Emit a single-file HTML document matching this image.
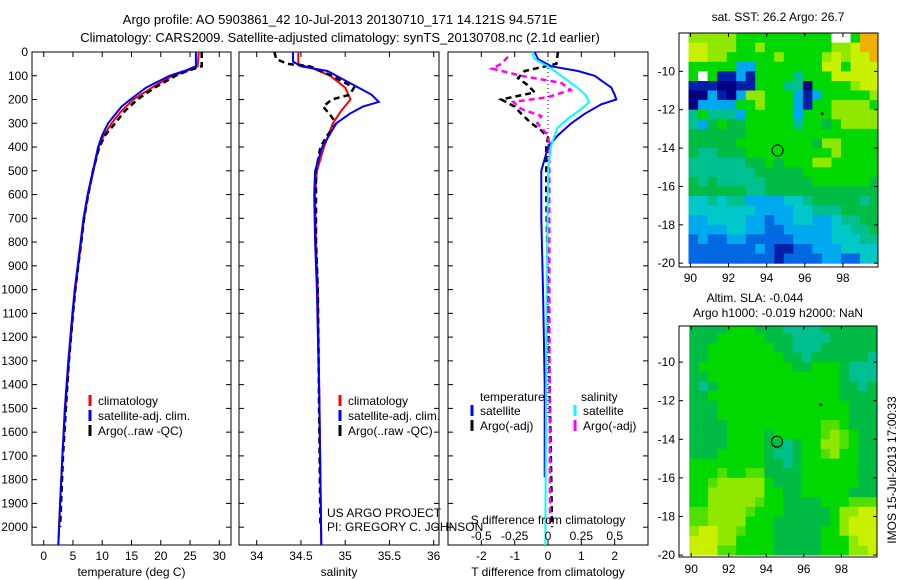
<!DOCTYPE html>
<html><head><meta charset="utf-8">
<style>
body{margin:0;background:#fff;}
svg{display:block;font-family:"Liberation Sans",sans-serif;}
text{font-size:12px;fill:#000;}
</style></head>
<body>
<svg id="fig" width="900" height="580" viewBox="0 0 900 580">
<text x="340" y="24" text-anchor="middle" style="font-size:13px">Argo profile: AO 5903861_42 10-Jul-2013 20130710_171 14.121S 94.571E</text>
<text x="340" y="42" text-anchor="middle" style="font-size:13px">Climatology: CARS2009. Satellite-adjusted climatology: synTS_20130708.nc (2.1d earlier)</text>
</svg>
<script>
// ---------- profile data (depth m, value) ----------
const depthTicks=[0,100,200,300,400,500,600,700,800,900,1000,1100,1200,1300,1400,1500,1600,1700,1800,1900,2000];
const tempTicks=[0,5,10,15,20,25,30];
const salTicks=[34,34.5,35,35.5,36];
const tdiffTicks=[-2,-1,0,1,2];
const sdiffTicks=[-0.5,-0.25,0,0.25,0.5];
const tempClim=[[0,26.5],[60,26.3],[80,24.5],[100,22],[150,18.5],[200,15.3],[250,13.2],[300,11.6],[350,10.3],[400,9.4],[500,8.5],[600,7.6],[700,6.9],[800,6.4],[900,5.9],[1000,5.4],[1100,5.0],[1300,4.3],[1500,3.7],[1700,3.2],[1900,2.8],[2075,2.5]];
const tempSat=[[0,26.0],[60,26.0],[80,24],[100,21.5],[150,17.5],[200,14.8],[230,13.3],[300,11.0],[350,10.0],[400,9.3],[500,8.4],[600,7.5],[700,6.8],[800,6.3],[900,5.8],[1000,5.3],[1100,4.9],[1300,4.2],[1500,3.6],[1700,3.2],[1900,2.8],[2075,2.5]];
const tempArgo=[[0,27],[60,27],[80,24.5],[100,22.5],[150,19],[200,16],[250,13.8],[300,12.2],[350,10.5],[400,9.5],[500,8.4],[600,7.6],[700,6.9],[800,6.4],[900,5.9],[1000,5.4],[1100,5.0],[1300,4.3],[1500,3.8],[1700,3.3],[2000,2.8]];
const salClim=[[0,34.47],[50,34.47],[70,34.64],[100,34.83],[150,35.0],[200,35.06],[250,34.95],[300,34.86],[400,34.76],[500,34.68],[600,34.66],[800,34.67],[1000,34.69],[1500,34.71],[2075,34.73]];
const salSat=[[0,34.41],[40,34.41],[60,34.5],[80,34.8],[120,35.0],[150,35.15],[180,35.3],[210,35.38],[230,35.2],[260,35.05],[300,34.9],[350,34.82],[400,34.74],[450,34.7],[500,34.66],[600,34.65],[800,34.66],[1000,34.68],[1500,34.71],[2075,34.73]];
const salArgo=[[0,34.2],[30,34.22],[50,34.35],[60,34.6],[100,34.85],[150,35.1],[180,35.05],[200,34.85],[230,34.75],[260,34.82],[300,34.9],[350,34.8],[400,34.72],[500,34.67],[800,34.67],[1000,34.69],[2000,34.72]];
const tdiffSat=[[0,-0.4],[30,-0.3],[60,0.1],[80,0.9],[100,1.4],[130,1.7],[150,1.9],[180,2.0],[200,2.05],[220,1.6],[260,1.1],[300,0.7],[350,0.3],[400,0.0],[450,-0.1],[500,-0.2],[700,-0.2],[1000,-0.15],[1400,-0.1],[1790,-0.1]];
const tdiffArgo=[[0,0.3],[50,0.25],[80,-0.7],[110,-0.9],[140,-0.6],[170,-0.4],[200,-1.4],[230,-1.0],[260,-0.8],[300,-0.5],[330,-0.2],[360,0.0],[400,-0.05],[600,-0.05],[1000,0.0],[1500,0.06],[1800,0.1],[2000,0.12]];
const sdiffSat=[[0,-0.12],[30,-0.1],[60,0.0],[100,0.1],[150,0.22],[180,0.28],[210,0.31],[240,0.25],[280,0.15],[320,0.07],[400,0.02],[500,0.0],[1000,-0.01],[2075,-0.02]];
const sdiffArgo=[[20,-0.3],[50,-0.35],[70,-0.42],[100,-0.2],[130,0.1],[160,0.17],[190,0.0],[210,-0.26],[240,-0.2],[270,-0.05],[300,-0.08],[350,0.0],[400,0.01],[1000,0.01],[2000,0.015]];
// ---------- map data ----------
const mapLon0=89.9, mapLat0=-8.0, mapCell=0.5;
const sstRows=["LLLLLGGGGGGGGGGWWGOO","YYLLLGGLGGGGGGGLLYOO","YYLLGGGGGLGGGGLYLYYO","GGGGGSSGGGGGGGYYGYYY","GWGDDSDGGGGTGGGYYYYY","DDDNNDDGGGTTNGGGGLYY","NNSDNSLLGGGSDSGGGGGL","NSSSSGGLGGGSDGGLLLLG","TGTTTSGGGGGSGGGLLLLL","TSgGggGGGGGTGGgGLLLL","ggggggGGGGGGGGGGGGGG","gggggGGGGGGGGgLLGGGG","gTTgggGGGGGGGGGLGGGG","TTTTTTggGgGGGLLGGGGG","TTTTTTTgggggGGGGGGGG","gTgTTTTTgggggGGGGGGg","ggggggTTgggggggggggg","CCTCTTSSSSCCTgggggTg","CCCCCCCSSSSCCTTTgggg","SSCCCCSSBSSCCSSCTTgg","SSSSCCSSBBSSSSSCCTTg","BSBBSSBBBBBSSSSCCCTT","BBBBBBBSBDDBBSSSCCCC","BBBBBBBBBDBBBBSSBBCC"];
const slaRows=["ggggGGGgggTTTTgggggg","gggGGGGGgggTTTTggggg","ggGGGGGGGggTTTgggggg","ggGGGGGGGGggTggggggT","gGGGGGGGGGGggGGGgTTT","ggGGGGGGGGGGGGGGgTTT","gTgGGGGGGGGGGGGGggTg","ggGGGGGGGGGGGGGGgggg","gggGGGGGGGGGGGGGGggg","gggGGGGGGGGGGGGGGggg","ggggGGGGGGGGGGMMGggg","ggggGGGGgGGGGGMLMGgg","ggggGGGGggTgGGLLMGgg","gggGGGGGgTTgGGMLGGgg","GGGGGGGGggTgGGGGGGgg","GGGMGGMMggggGGGGGGgg","GGMLLLLLGgggGGGGGGgg","GGLLLLLLGGggGGGGGggg","GGLLLLLMGGggggGGGMMM","MMLLLLMGGGgggggGLLYY","MMLLLLGGGggggggGLYYY","LYYLLMGGGgggggGGLYYY","YYYLLGGGGgggggGGGLYY","YYYMMGGGGgggggGGGLLY"];
const profLon=94.571, profLat=-14.121;
const mapLonTicks=[90,92,94,96,98];
const mapLatTicks=[-10,-12,-14,-16,-18,-20];

const NS="http://www.w3.org/2000/svg";
const svg=document.getElementById('fig');
function mk(tag,attrs,parent){const e=document.createElementNS(NS,tag);for(const k in attrs)e.setAttribute(k,attrs[k]);(parent||svg).appendChild(e);return e;}
function txt(x,y,s,anchor,parent){const t=mk('text',{x:x,y:y,'text-anchor':anchor||'start'},parent);t.textContent=s;return t;}

const Y0=52,Y1=545;
const yD=d=>Y0+d/2075*(Y1-Y0);

function panel(name,x0,x1,dmin,dmax,ticks,xlabel,showDepthLabels){
  const g=mk('g',{});
  
  
  const sx=v=>x0+(v-dmin)/(dmax-dmin)*(x1-x0);
  const r=mk('rect',{x:x0,y:Y0,width:x1-x0,height:Y1-Y0,fill:'none',stroke:'#000','stroke-width':1},g);
  
  
  depthTicks.forEach(d=>{
    const y=yD(d);
    mk('line',{x1:x0,x2:x0+5,y1:y,y2:y,stroke:'#000'},g);
    mk('line',{x1:x1-5,x2:x1,y1:y,y2:y,stroke:'#000'},g);
    if(showDepthLabels){const t=txt(x0-4,y+4,String(d),'end',g);
      
      }
  });
  ticks.forEach(v=>{
    const x=sx(v);
    mk('line',{x1:x,x2:x,y1:Y1,y2:Y1-5,stroke:'#000'},g);
    mk('line',{x1:x,x2:x,y1:Y0,y2:Y0+5,stroke:'#000'},g);
    const t=txt(x,560,String(v),'middle',g);
    
    
  });
  const xl=txt((x0+x1)/2,576,xlabel,'middle',g);
  
  
  return sx;
}
function series(data,sx,color,w,dash,name){
  const p=mk('polyline',{points:data.map(([d,v])=>sx(v).toFixed(1)+','+yD(d).toFixed(1)).join(' '),fill:'none',stroke:color,'stroke-width':w});
  if(dash)p.setAttribute('stroke-dasharray',dash);
  
  
}
function legend(x,y,items){
  items.forEach(([c,s],i)=>{
    const yy=y+i*15;
    const l=mk('line',{x1:x,x2:x,y1:yy-10,y2:yy+1,stroke:c,'stroke-width':3});
    
    
    const t=txt(x+8,yy,s);
    
    
  });
}
const sxT=panel('temperature-panel',32,231,-2,32,tempTicks,'temperature (deg C)',true);
series(tempClim,sxT,'#f00',2,null,'temp-climatology-line');
series(tempArgo,sxT,'#000',2.5,'6,4','temp-argo-line');
series(tempSat,sxT,'#00f',2,null,'temp-satellite-line');
legend(90,405,[['#f00','climatology'],['#00f','satellite-adj. clim.'],['#000','Argo(..raw -QC)']]);
const sxS=panel('salinity-panel',239,439,33.8,36.06,salTicks,'salinity',false);
series(salClim,sxS,'#f00',2,null,'sal-climatology-line');
series(salArgo,sxS,'#000',2.5,'6,4','sal-argo-line');
series(salSat,sxS,'#00f',2,null,'sal-satellite-line');
legend(340,405,[['#f00','climatology'],['#00f','satellite-adj. clim.'],['#000','Argo(..raw -QC)']]);
let t1=txt(327,517,'US ARGO PROJECT');
let t2=txt(327,531,'PI: GREGORY C. JOHNSON');
const sxD=panel('difference-panel',448,648,-3,3,tdiffTicks,'T difference from climatology',false);
const sxSD=v=>448+(v+0.75)/1.5*200;
const zl=mk('line',{x1:548,x2:548,y1:Y0,y2:420,stroke:'#000','stroke-dasharray':'1,3'});

series(tdiffArgo,sxD,'#000',2.5,'6,4','tdiff-argo-line');
series(sdiffArgo,sxSD,'#f0f',2.5,'6,4','sdiff-argo-line');
series(tdiffSat,sxD,'#00f',2,null,'tdiff-satellite-line');
series(sdiffSat,sxSD,'#0ff',2,null,'sdiff-satellite-line');
sdiffTicks.forEach(v=>{const t=txt(sxSD(v),540,String(v),'middle');
  });
let sdt=txt(548,524,'S difference from climatology','middle');
let lt=txt(480,401,'temperature');
let ls=txt(581,401,'salinity');
legend(472,415,[['#00f','satellite'],['#000','Argo(-adj)']]);
legend(575,415,[['#0ff','satellite'],['#f0f','Argo(-adj)']]);

const pal={Y:'#c8f000',L:'#90e800',M:'#50e000',G:'#00d800',g:'#00bb44',T:'#00c090',C:'#00c8c8',S:'#00a8f0',B:'#0068e0',D:'#0020a8',N:'#000080',O:'#f0b000',W:'#ffffff'};
function map(name,x0,x1,y0,y1,lonMin,lonMax,latTop,latBot,rows,lonTickLabelY){
  const g=mk('g',{});
  
  
  const sx=v=>x0+(v-lonMin)/(lonMax-lonMin)*(x1-x0);
  const sy=v=>y0+(latTop-v)/(latTop-latBot)*(y1-y0);
  const clip=mk('clipPath',{id:name+'-clip'},g);
  mk('rect',{x:x0,y:y0,width:x1-x0,height:y1-y0},clip);
  const cg=mk('g',{'clip-path':'url(#'+name+'-clip)'},g);
  rows.forEach((row,ri)=>{
    for(let ci=0;ci<row.length;ci++){
      const ch=row[ci];if(!pal[ch])continue;
      const lon=mapLon0+ci*mapCell, lat=mapLat0-ri*mapCell;
      const xa=sx(lon),xb=sx(lon+mapCell),ya=sy(lat),yb=sy(lat-mapCell);
      const c=mk('rect',{x:xa.toFixed(1),y:ya.toFixed(1),width:(xb-xa+0.5).toFixed(1),height:(yb-ya+0.5).toFixed(1),fill:pal[ch]},cg);
      
      
    }
  });
  const f=mk('rect',{x:x0,y:y0,width:x1-x0,height:y1-y0,fill:'none',stroke:'#000'},g);
  
  mapLonTicks.forEach(v=>{const x=sx(v);
    mk('line',{x1:x,x2:x,y1:y1,y2:y1-4,stroke:'#000'},g);mk('line',{x1:x,x2:x,y1:y0,y2:y0+4,stroke:'#000'},g);
    const t=txt(x,lonTickLabelY,String(v),'middle',g);});
  mapLatTicks.forEach(v=>{const y=sy(v);
    mk('line',{x1:x0,x2:x0+4,y1:y,y2:y,stroke:'#000'},g);mk('line',{x1:x1-4,x2:x1,y1:y,y2:y,stroke:'#000'},g);
    const t=txt(x0-4,y+4,String(v),'end',g);});
  const c=mk('circle',{cx:sx(profLon),cy:sy(profLat),r:5.5,fill:'none',stroke:'#000'},g);
  
  const d=mk('rect',{x:sx(96.9)-1,y:sy(-12.2)-1,width:2.5,height:2.5,fill:'#000'},g);
  
}
map('sst-map',679,878,33,267,89.4,99.84,-8.0,-20.2,sstRows,282);
map('sla-map',679,877,326,557,89.35,99.9,-8.13,-20.1,slaRows,573);
let m1=txt(778,21,'sat. SST: 26.2 Argo: 26.7','middle');
let m2=txt(755,302,'Altim. SLA: -0.044','middle');
let m3=txt(778,317,'Argo h1000: -0.019 h2000: NaN','middle');
let ts=txt(0,0,'IMOS 15-Jul-2013 17:00:33','middle');ts.setAttribute('transform','translate(896,470) rotate(-90)');

</script>
</body></html>
